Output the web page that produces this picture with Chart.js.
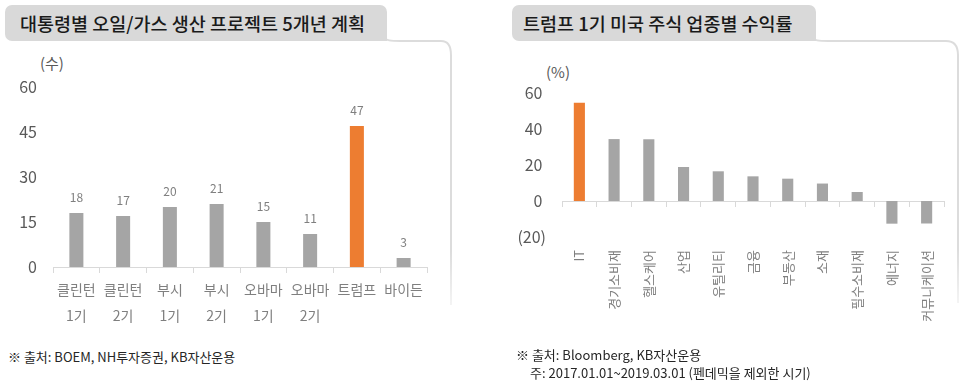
<!DOCTYPE html>
<html>
<head>
<meta charset="utf-8">
<script src="https://cdn.jsdelivr.net/npm/chart.js@4.4.1/dist/chart.umd.min.js"></script>
<style>
  body { margin: 0; width: 966px; height: 392px; background: #fff; position: relative; overflow: hidden;
         font-family: "Noto Sans CJK KR", "Noto Sans", sans-serif; }
  .abs { position: absolute; }
  .banner { background: #d9d9d9; border-radius: 7px 7px 0 7px; height: 36px; line-height: 36px;
            font-size: 18.5px; font-weight: 500; color: #1a1a1a; box-sizing: border-box; }
  .unit { font-size: 15px; color: #595959; }
  .note { font-size: 13px; color: #262626; white-space: nowrap; }
</style>
</head>
<body>
<svg class="abs" style="left:0;top:0" width="966" height="392">
  <defs>
    <linearGradient id="fade" x1="0" y1="0" x2="0" y2="1">
      <stop offset="0.8" stop-color="#dcdcdc"/>
      <stop offset="1" stop-color="#f4f4f4"/>
    </linearGradient>
  </defs>
  <path d="M380 36 C386 41 392 41 400 41 L441 41 Q451 41 451 55 L451 305" fill="none" stroke="url(#fade)" stroke-width="2"/>
  <path d="M808 36 C814 41 820 41 828 41 L946 41 Q958 41 958 55 L958 303" fill="none" stroke="url(#fade)" stroke-width="2"/>
</svg>

<div class="abs banner" style="left:5px;top:5px;width:382px;padding-left:15px">대통령별 오일/가스 생산 프로젝트 5개년 계획</div>
<div class="abs banner" style="left:512px;top:5px;width:304px;padding-left:11px">트럼프 1기 미국 주식 업종별 수익률</div>

<div class="abs unit" style="left:40px;top:52px">(수)</div>
<div class="abs unit" style="left:546px;top:61px">(%)</div>

<canvas id="leftChart" class="abs" style="left:0;top:50px" width="460" height="290"></canvas>
<canvas id="rightChart" class="abs" style="left:483px;top:50px" width="483" height="300"></canvas>

<div class="abs note" style="left:8px;top:347px">※ 출처: BOEM, NH투자증권, KB자산운용</div>
<div class="abs note" style="left:516px;top:345px">※ 출처: Bloomberg, KB자산운용</div>
<div class="abs note" style="left:530px;top:363px">주: 2017.01.01~2019.03.01 (펜데믹을 제외한 시기)</div>

<script>
// Data
const presidentLabels = [['클린턴', '1기'], ['클린턴', '2기'], ['부시', '1기'], ['부시', '2기'],
                         ['오바마', '1기'], ['오바마', '2기'], ['트럼프', ''], ['바이든', '']];
const projectCounts = [18, 17, 20, 21, 15, 11, 47, 3];
const projectTicks = [0, 15, 30, 45, 60];

const sectorLabels = ['IT', '경기소비재', '헬스케어', '산업', '유틸리티', '금융', '부동산', '소재', '필수소비재', '에너지', '커뮤니케이션'];
const sectorReturns = [54.6, 34.4, 34.3, 18.9, 16.5, 13.7, 12.4, 9.7, 5.0, -12.6, -12.5];
const sectorTicks = [-20, 0, 20, 40, 60];

// Styles
const FONT = '"Noto Sans CJK KR", "Noto Sans", sans-serif';
const GRAY_BAR = '#a5a5a5';
const ORANGE = '#ed7d31';
const AXIS_LINE = '#d9d9d9';

Chart.defaults.font.family = FONT;
Chart.defaults.animation = false;
Chart.defaults.responsive = false;
Chart.defaults.devicePixelRatio = 1;
Chart.defaults.plugins.legend.display = false;
Chart.defaults.plugins.tooltip.enabled = false;

// value labels above bars
const valueLabels = {
  id: 'valueLabels',
  afterDatasetsDraw(chart) {
    const ctx = chart.ctx;
    const values = chart.data.datasets[0].data;
    ctx.save();
    ctx.font = '12px ' + FONT;
    ctx.fillStyle = '#7f7f7f';
    ctx.textAlign = 'center';
    ctx.textBaseline = 'middle';
    chart.getDatasetMeta(0).data.forEach((bar, i) => {
      ctx.fillText(values[i], bar.x, bar.y - 16);
    });
    ctx.restore();
  }
};

new Chart(document.getElementById('leftChart'), {
  type: 'bar',
  data: {
    labels: presidentLabels,
    datasets: [{
      data: projectCounts,
      backgroundColor: presidentLabels.map(l => l[0] === '트럼프' ? ORANGE : GRAY_BAR),
      categoryPercentage: 1,
      barPercentage: 0.3
    }]
  },
  options: {
    layout: { padding: { top: 37, right: 33, left: 0, bottom: 0 } },
    scales: {
      x: {
        grid: { drawOnChartArea: false, drawTicks: true, tickLength: 6, color: AXIS_LINE, offset: true },
        border: { color: AXIS_LINE },
        ticks: { color: '#7f7f7f', font: { size: 14, lineHeight: 1.9 }, padding: 3, maxRotation: 0, autoSkip: false },
        afterFit: s => { s.height = 73; }
      },
      y: {
        min: 0, max: 60,
        afterBuildTicks: s => { s.ticks = projectTicks.map(v => ({ value: v })); },
        grid: { display: false, drawTicks: false },
        border: { display: false },
        ticks: { color: '#595959', font: { size: 16 }, padding: 16 },
        afterFit: s => { s.width = 53; }
      }
    }
  },
  plugins: [valueLabels]
});

new Chart(document.getElementById('rightChart'), {
  type: 'bar',
  data: {
    labels: sectorLabels,
    datasets: [{
      data: sectorReturns,
      backgroundColor: sectorLabels.map(l => l === 'IT' ? ORANGE : GRAY_BAR),
      categoryPercentage: 1,
      barPercentage: 0.32
    }]
  },
  options: {
    layout: { padding: { top: 43, right: 22, left: 0, bottom: 0 } },
    scales: {
      x: {
        position: 'bottom',
        grid: { display: false, drawTicks: false },
        border: { display: false },
        ticks: { color: '#7f7f7f', font: { size: 13 }, padding: 13, minRotation: 90, maxRotation: 90, autoSkip: false },
        afterFit: s => { s.height = 113; }
      },
      x2: {
        type: 'category',
        position: { y: 0 },
        offset: true,
        grid: { offset: true, drawOnChartArea: false, drawTicks: true, tickLength: 5, color: AXIS_LINE },
        border: { color: AXIS_LINE },
        ticks: { display: false }
      },
      y: {
        min: -20, max: 60,
        afterBuildTicks: s => { s.ticks = sectorTicks.map(v => ({ value: v })); },
        grid: { display: false, drawTicks: false },
        border: { display: false },
        ticks: {
          color: '#595959', font: { size: 16 }, padding: 16,
          callback: v => v < 0 ? '(' + Math.abs(v) + ')' : v + ' '
        },
        afterFit: s => { s.width = 79; }
      }
    }
  }
});
</script>
</body>
</html>
